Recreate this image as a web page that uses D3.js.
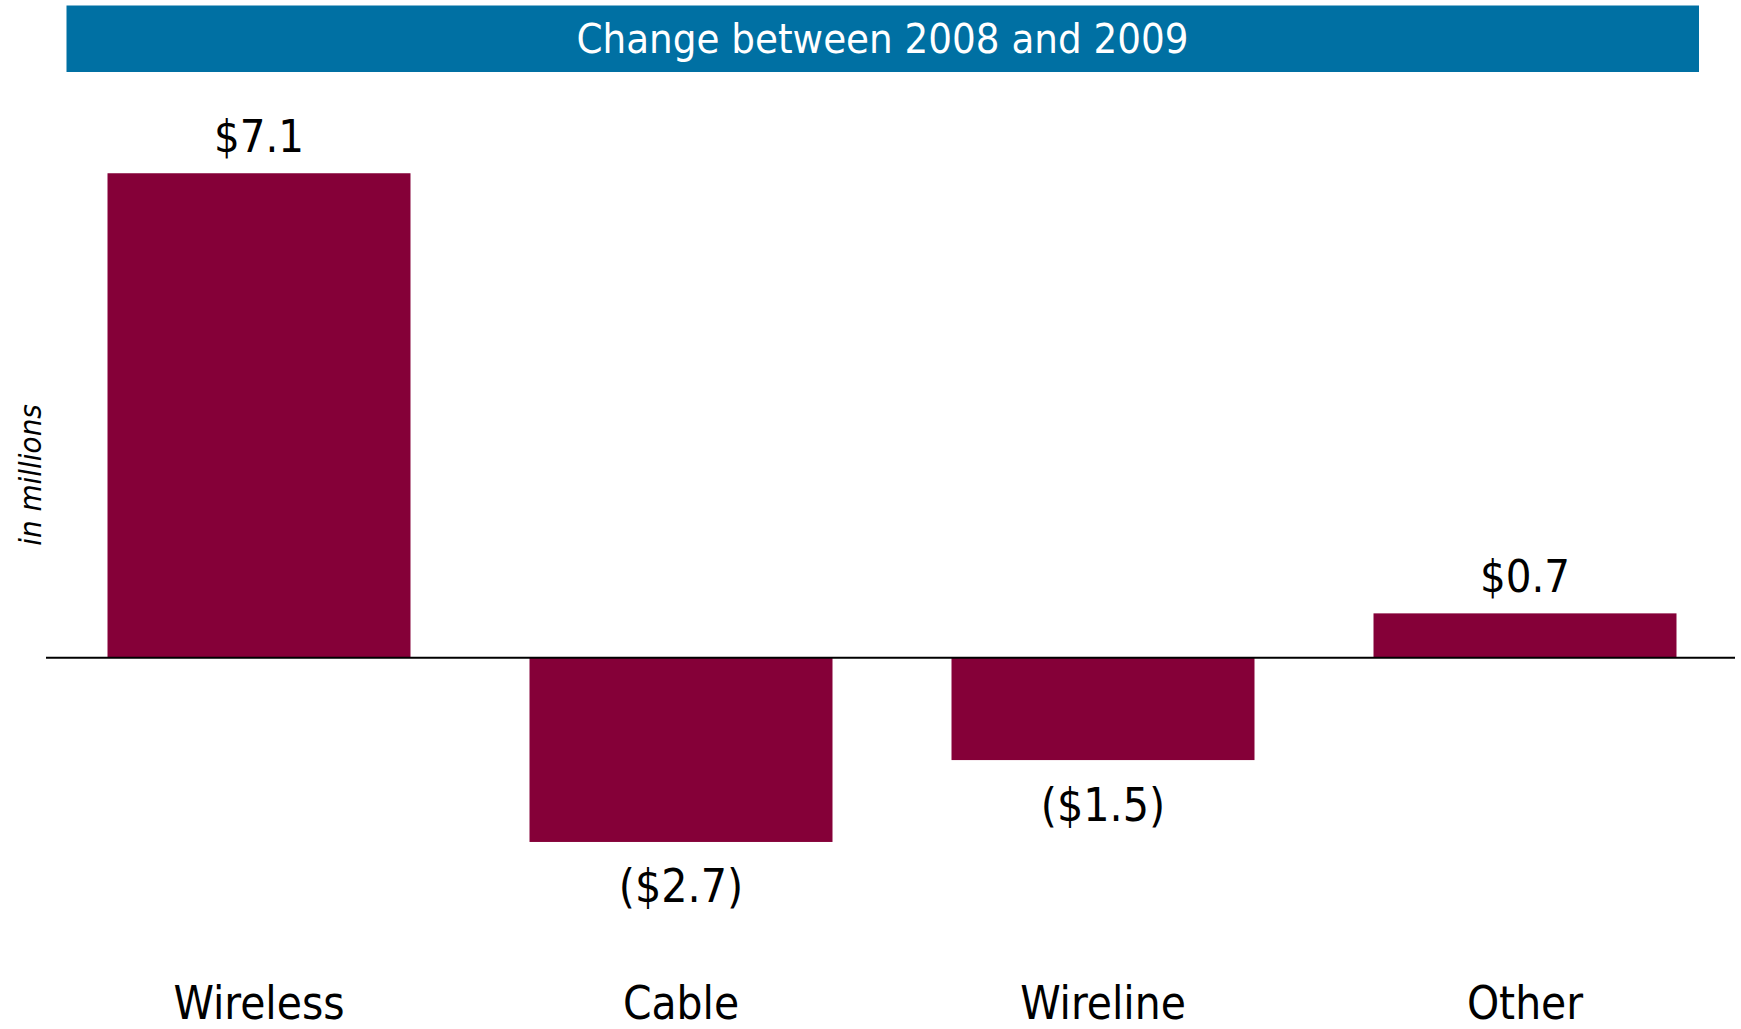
<!DOCTYPE html>
<html>
<head>
<meta charset="utf-8">
<script src="https://cdn.jsdelivr.net/npm/d3@7"></script>
<style>
  html, body { margin: 0; padding: 0; background: #ffffff; }
  svg { display: block; }
  text { font-family: "DejaVu Sans Condensed", "DejaVu Sans", Verdana, sans-serif; font-stretch: condensed; }
</style>
</head>
<body>
<svg id="chart" width="1741" height="1029"></svg>
<script>
// ---- data ----
const categories = ["Wireless", "Cable", "Wireline", "Other"];
const values = [7.1, -2.7, -1.5, 0.65];
const titleText = "Change between 2008 and 2009";
const yAxisLabel = "in millions";

// ---- layout ----
const svg = d3.select("#chart");

const x = d3.scaleBand()
  .domain(categories)
  .range([48, 1736])
  .paddingInner(0.282)
  .paddingOuter(0.141);

const y = d3.scaleLinear()
  .domain([-5, 9])
  .range([998.9, 43.6]);

const barColor = "#850038";
const bandColor = "#0070a3";
const fontStack = "\"DejaVu Sans Condensed\", \"DejaVu Sans\", Verdana, sans-serif";

// title band
svg.append("rect")
  .attr("x", 66.5).attr("y", 5.5)
  .attr("width", 1632.5).attr("height", 66.5)
  .attr("fill", bandColor);
svg.append("text")
  .attr("x", 882.5).attr("y", 52.5)
  .attr("text-anchor", "middle")
  .attr("fill", "#ffffff")
  .attr("font-size", 41.5)
  .text(titleText);

// bars
const data = categories.map((c, i) => ({ c, v: values[i] }));
svg.append("g").selectAll("rect")
  .data(data)
  .join("rect")
  .attr("x", d => x(d.c))
  .attr("width", x.bandwidth())
  .attr("y", d => y(Math.max(0, d.v)))
  .attr("height", d => Math.abs(y(d.v) - y(0)))
  .attr("fill", barColor);

// zero line
svg.append("line")
  .attr("x1", 46).attr("x2", 1735)
  .attr("y1", y(0)).attr("y2", y(0))
  .attr("stroke", "#000").attr("stroke-width", 2);

// value labels
const fmt = d3.format(".1f");
svg.append("g").selectAll("text")
  .data(data)
  .join("text")
  .attr("x", d => x(d.c) + x.bandwidth() / 2)
  .attr("y", d => d.v >= 0 ? y(d.v) - 21.5 : y(d.v) + 60.5)
  .attr("text-anchor", "middle")
  .attr("font-size", d => d.v >= 0 ? 45 : 46)
  .attr("fill", "#000")
  .text(d => d.v >= 0 ? "$" + fmt(d.v) : "($" + fmt(-d.v) + ")");

// category axis labels
const xAxis = d3.axisBottom(x).tickSize(0).tickPadding(0);
const gx = svg.append("g")
  .attr("transform", "translate(0,980)")
  .call(xAxis);
gx.select(".domain").remove();
gx.selectAll("text")
  .attr("font-size", 45.5)
  .attr("font-family", fontStack)
  .style("font-stretch", "condensed")
  .attr("fill", "#000")
  .attr("dy", null)
  .attr("y", 39);

// y axis label
svg.append("text")
  .attr("transform", "translate(41,475) rotate(-90)")
  .attr("text-anchor", "middle")
  .attr("font-size", 31)
  .attr("font-style", "italic")
  .attr("fill", "#000")
  .text(yAxisLabel);
</script>
</body>
</html>
